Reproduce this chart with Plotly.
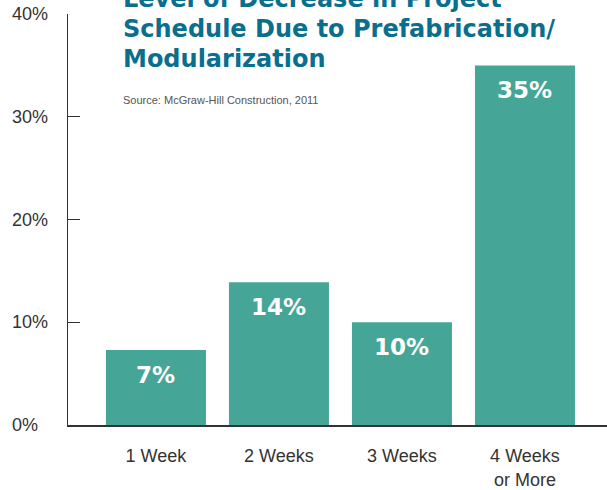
import plotly.graph_objects as go

categories = ["1 Week", "2 Weeks", "3 Weeks", "4 Weeks<br>or More"]
values = [7.3, 13.9, 10.0, 35.0]
value_labels = ["7%", "14%", "10%", "35%"]
y_tick_values = [0, 10, 20, 30, 40]
y_tick_labels = ["0%", "10%", "20%", "30%", "40%"]
title_lines = ["Level of Decrease in Project", "Schedule Due to Prefabrication/", "Modularization"]
source_text = "Source: McGraw-Hill Construction, 2011"

BAR = "#45a697"
TEAL = "#0a6e8d"
DARK = "#333333"
SANS = "Liberation Sans, Arial, sans-serif"

W, H = 607, 490
ML, MR, MT, MB = 68, 0, 14, 61
PH = H - MT - MB
PW = W - ML - MR


def py(p):
    return (H - MB - p) / PH


def px(p):
    return (p - ML) / PW


fig = go.Figure()
fig.add_trace(go.Bar(
    x=list(range(len(categories))), y=values, marker=dict(color=BAR, line=dict(width=0)),
    width=0.813, hoverinfo="skip",
))

annotations = []
for i, (v, lab) in enumerate(zip(values, value_labels)):
    annotations.append(dict(
        x=i, y=v, xref="x", yref="y", text=lab, showarrow=False,
        yanchor="middle", yshift=-25,
        font=dict(family="DejaVu Sans", size=23, color="white", weight="bold"),
    ))

for v, lab in zip(y_tick_values, y_tick_labels):
    annotations.append(dict(
        x=px(10), y=v, xref="paper", yref="y", text=lab, showarrow=False,
        xanchor="left", yanchor="middle",
        font=dict(family=SANS, size=18, color=DARK),
    ))

title_y = [-1, 29, 59]
for line, p in zip(title_lines, title_y):
    annotations.append(dict(
        x=px(121), y=py(p), xref="paper", yref="paper", text=line, showarrow=False,
        xanchor="left", yanchor="middle",
        font=dict(family="DejaVu Sans", size=24, color=TEAL, weight="bold"),
    ))

annotations.append(dict(
    x=px(121), y=py(101), xref="paper", yref="paper", text=source_text, showarrow=False,
    xanchor="left", yanchor="middle",
    font=dict(family=SANS, size=11, color="#555555"),
))

fig.update_layout(
    width=W, height=H,
    margin=dict(l=ML, r=MR, t=MT, b=MB, pad=0),
    paper_bgcolor="white", plot_bgcolor="white",
    showlegend=False,
    annotations=annotations,
    xaxis=dict(
        range=[-0.715, 3.667], tickmode="array",
        tickvals=list(range(len(categories))), ticktext=categories,
        showgrid=False, zeroline=False, showline=True, linecolor=DARK, linewidth=1.5,
        ticks="", ticklabelstandoff=14,
        tickfont=dict(family=SANS, size=18, color=DARK),
        fixedrange=True,
    ),
    yaxis=dict(
        range=[0, 40], tickmode="array", tickvals=y_tick_values[1:],
        showticklabels=False, showgrid=False, zeroline=False,
        showline=True, linecolor=DARK, linewidth=1.2,
        ticks="inside", ticklen=12, tickcolor=DARK, tickwidth=1.2,
        fixedrange=True,
    ),
)

fig.write_html(
    "out.html",
    config={"displayModeBar": False},
    post_script="document.body.style.margin='0';document.body.style.padding='0';",
)
